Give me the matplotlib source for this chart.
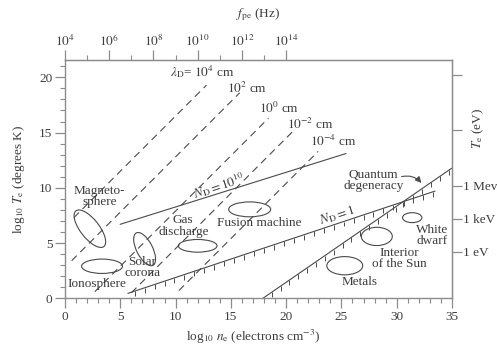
import numpy as np
import matplotlib
matplotlib.use('Agg')
import matplotlib.pyplot as plt
from matplotlib.patches import Ellipse
from matplotlib.collections import LineCollection
from matplotlib.ticker import MultipleLocator, FixedLocator

plt.rcParams['font.family'] = ['Liberation Serif', 'DejaVu Serif']
plt.rcParams['mathtext.fontset'] = 'stix'
plt.rcParams['font.size'] = 9.5

# Debye length lines:  log Te = log ne + offset
debye_labels = [r'$\lambda_{\rm D}$= $10^4$ cm', r'$10^2$ cm', r'$10^0$ cm', r'$10^{-2}$ cm', r'$10^{-4}$ cm']
debye_offset = [6.5, 2.8, -2.1, -5.5, -9.6]
debye_n_start = [0.8, 0.6, 2.7, 6.0, 10.3]
debye_n_end = [12.8, 15.8, 18.4, 20.8, 22.9]
debye_lab_n = [12.45, 16.5, 19.35, 22.15, 24.25]
debye_lab_T = [20.55, 19.0, 17.2, 15.75, 14.2]

# N_D lines and the quantum degeneracy line (end points)
nd10_n = [5.0, 25.4]
nd10_T = [6.7, 13.1]
nd1_n = [5.7, 33.45]
nd1_T = [0.45, 9.7]
deg_n = [17.9, 34.95]
deg_T = [0.0, 11.76]

# plasma regions (ellipses)
reg_n = [2.25, 3.35, 7.2, 12.0, 16.7, 25.3, 28.2, 31.4]
reg_T = [6.3, 2.9, 4.45, 4.75, 8.05, 2.95, 5.6, 7.3]
reg_w = [4.1, 3.7, 3.3, 3.5, 3.8, 3.25, 2.8, 1.75]
reg_h = [1.7, 1.3, 1.45, 1.15, 1.35, 1.65, 1.65, 0.9]
reg_ang = [-52, 0, -63, 0, 0, 0, 0, 0]

labels = ['Magneto-\nsphere', 'Ionosphere', 'Solar\ncorona', 'Gas\ndischarge',
          'Fusion machine', 'Metals', 'Interior\nof the Sun', 'White\ndwarf',
          'Quantum\ndegeneracy']
lab_n = [3.15, 2.9, 7.0, 10.7, 17.55, 26.6, 30.2, 33.2, 27.9]
lab_T = [9.2, 1.3, 2.8, 6.55, 6.8, 1.45, 3.6, 5.7, 10.65]

# axes ticks
f_major = [4, 6, 8, 10, 12, 14]
f_minor = [5, 7, 9, 11, 13]
ev_ticks = [4.2, 7.2, 10.2, 15.2, 20.2]
ev_labels = ['1 eV', '1 keV', '1 Mev', '', '']

line_c = '#4a4a4a'
text_c = '#3c3c3c'
spine_c = '#8c8c8c'

fig = plt.figure(figsize=(4.97, 3.47), dpi=100)
ax = fig.add_axes([65 / 497, 1 - 298.3 / 347, 387 / 497, 238.3 / 347])
ax.set_xlim(0, 35)
ax.set_ylim(0, 21.57)

for i in range(len(debye_offset)):
    n = np.array([debye_n_start[i], debye_n_end[i]])
    ax.plot(n, n + debye_offset[i], color=line_c, lw=0.8, dashes=(6.5, 4.5))
    ax.text(debye_lab_n[i], debye_lab_T[i], debye_labels[i], ha='center', va='center', color=text_c)

ax.plot(nd10_n, nd10_T, color=line_c, lw=0.8)
ax.plot(nd1_n, nd1_T, color=line_c, lw=0.8)
ax.plot(deg_n, deg_T, color=line_c, lw=0.8)


def hatch(xs, ys, start, stop, step, length):
    ns = np.arange(start, stop, step)
    ts = np.interp(ns, xs, ys)
    segs = [[(a, b), (a, b - length)] for a, b in zip(ns, ts)]
    ax.add_collection(LineCollection(segs, colors=line_c, linewidths=0.7))


hatch(nd1_n, nd1_T, 6.3, 33.4, 0.9, 0.45)
hatch(deg_n, deg_T, 18.7, 34.9, 0.8, 0.45)

for i in range(len(reg_n)):
    ax.add_patch(Ellipse((reg_n[i], reg_T[i]), reg_w[i], reg_h[i], angle=reg_ang[i],
                         fill=False, ec=line_c, lw=0.8))

for i in range(len(labels)):
    ax.text(lab_n[i], lab_T[i], labels[i], ha='center', va='center', color=text_c,
            linespacing=0.95)

ax.text(13.9, 10.2, r'$N_{\rm D} = 10^{10}$', rotation=18, ha='center', va='center', color=text_c)
ax.text(24.6, 7.55, r'$N_{\rm D} = 1$', rotation=18, ha='center', va='center', color=text_c)

ax.annotate('', xy=(32.4, 10.25), xytext=(30.2, 10.95),
            arrowprops=dict(arrowstyle='-|>', connectionstyle='arc3,rad=-0.35',
                            color=line_c, lw=0.8, mutation_scale=9))

# axis styling
for s in ax.spines.values():
    s.set_color(spine_c)
    s.set_linewidth(1.0)
ax.xaxis.set_major_locator(MultipleLocator(5))
ax.xaxis.set_minor_locator(MultipleLocator(1))
ax.yaxis.set_major_locator(MultipleLocator(5))
ax.yaxis.set_minor_locator(MultipleLocator(1))
ax.tick_params(which='both', direction='out', color=spine_c, labelcolor=text_c,
               labelsize=9.5, right=False, top=False)
ax.tick_params(which='major', length=7, width=0.9, pad=2)
ax.tick_params(which='minor', length=3.5, width=0.8)

top = ax.secondary_xaxis('top', functions=(lambda x: x / 2 + 4, lambda f: 2 * (f - 4)))
top.xaxis.set_major_locator(FixedLocator(f_major))
top.xaxis.set_minor_locator(FixedLocator(f_minor))
top.set_xticklabels([r'$10^{%d}$' % k for k in f_major])
top.tick_params(which='both', direction='out', color=spine_c, labelcolor=text_c, labelsize=9.5)
top.tick_params(which='major', length=7, width=0.9, pad=1)
top.tick_params(which='minor', length=3.5, width=0.8)
top.spines['top'].set_color(spine_c)

right = ax.secondary_yaxis('right')
right.yaxis.set_major_locator(FixedLocator(ev_ticks))
right.set_yticklabels(ev_labels)
right.tick_params(direction='out', length=7, width=0.9, pad=1, color=spine_c,
                  labelcolor=text_c, labelsize=9.5)
right.spines['right'].set_color(spine_c)

fig.text(258 / 497, 1 - 15 / 347, r'$f_{\rm pe}$ (Hz)', ha='center', va='center', color=text_c)
fig.text(253 / 497, 1 - 337 / 347, r'log$_{10}$ $n_{\rm e}$ (electrons cm$^{-3}$)',
         ha='center', va='center', color=text_c)
fig.text(19 / 497, 1 - 179 / 347, r'log$_{10}$ $T_{\rm e}$ (degrees K)', rotation=90,
         ha='center', va='center', color=text_c)
fig.text(478 / 497, 1 - 128 / 347, r'$T_{\rm e}$ (eV)', rotation=90,
         ha='center', va='center', color=text_c)

fig.savefig('out.png', dpi=100)
